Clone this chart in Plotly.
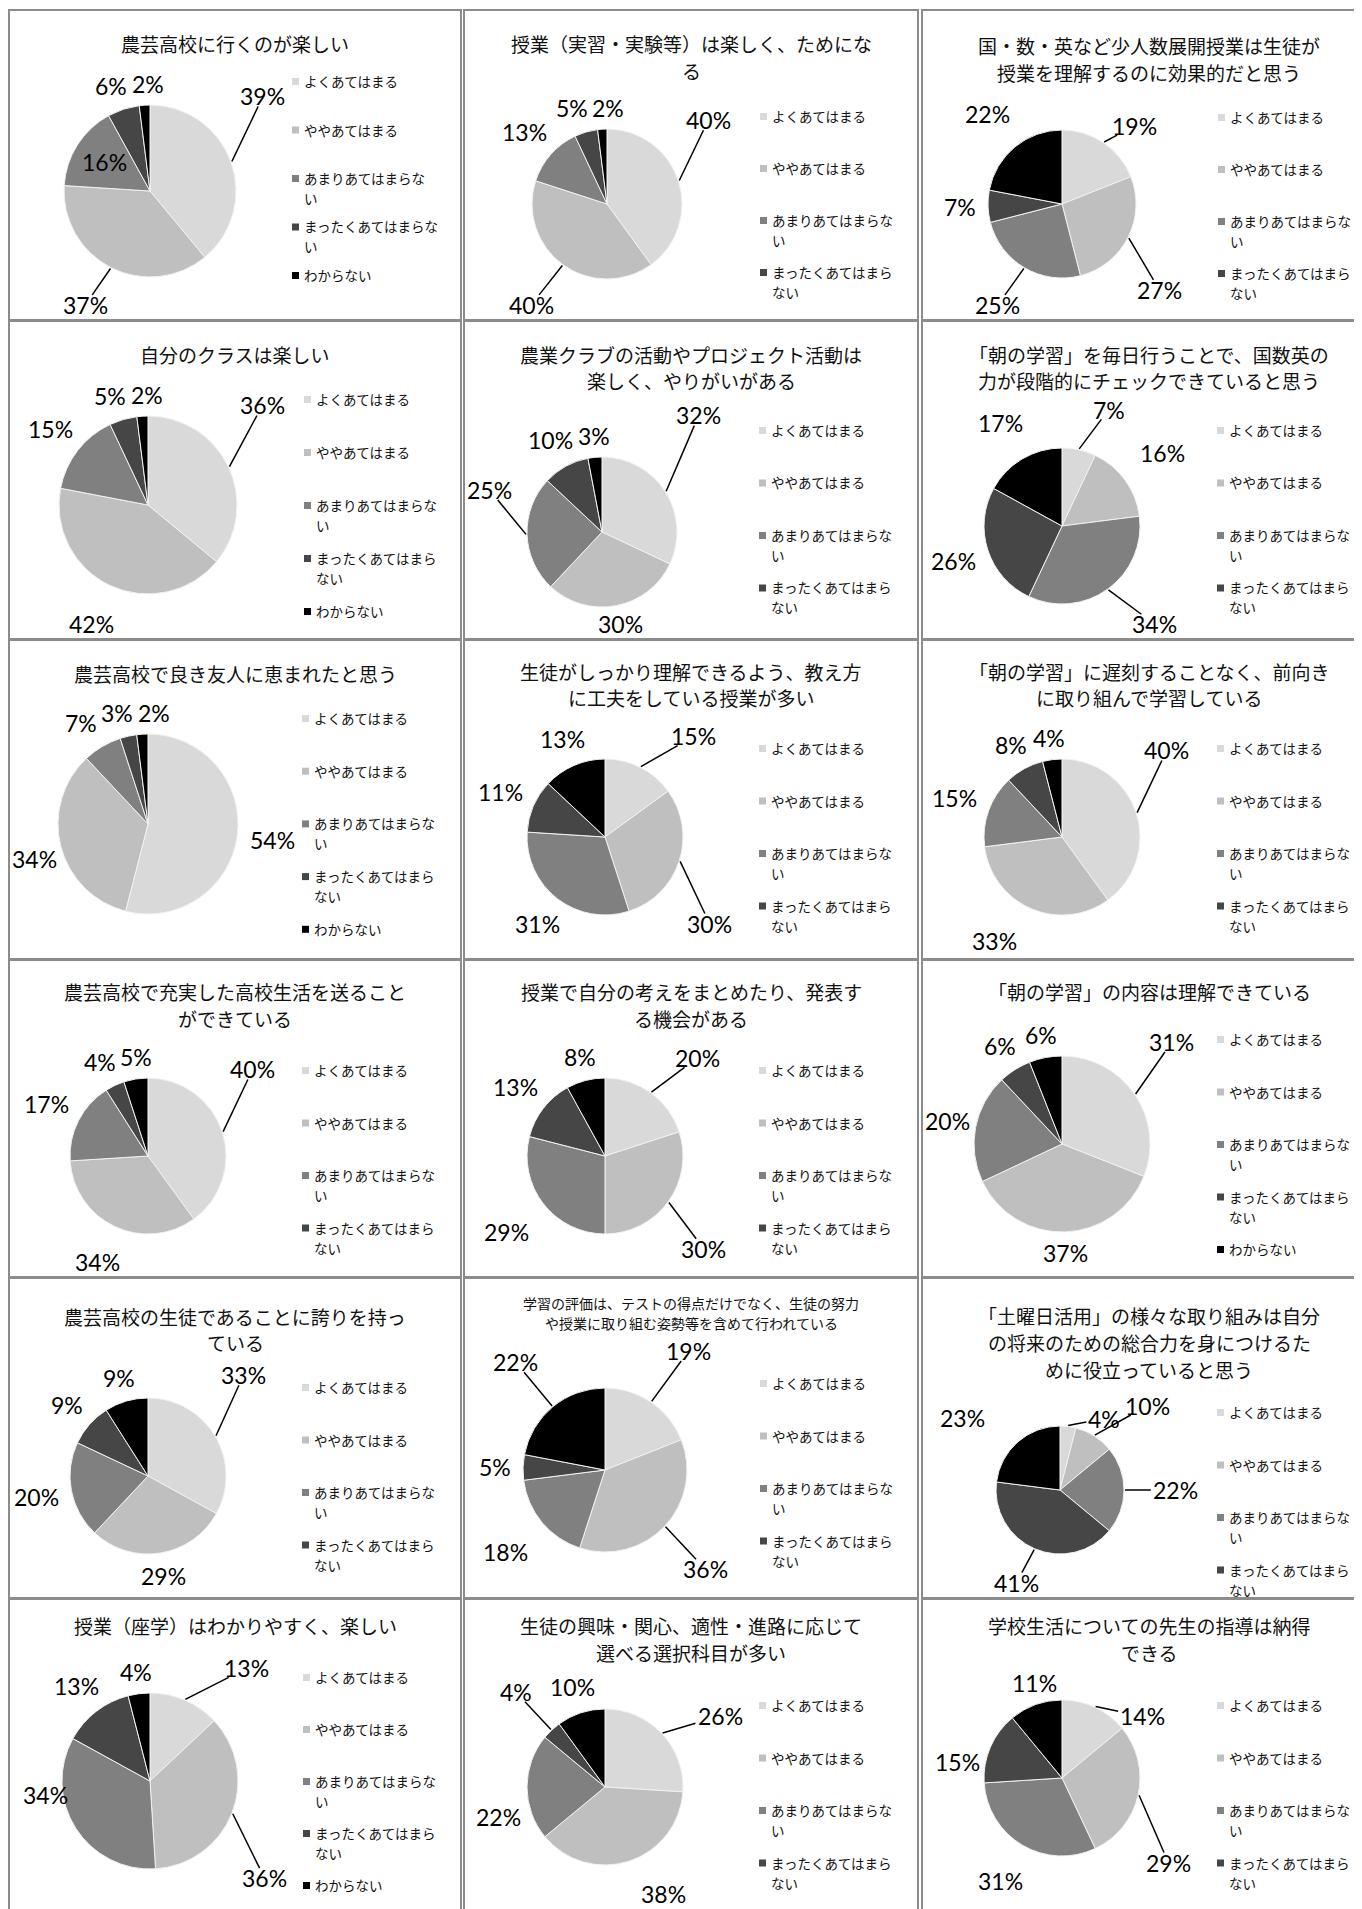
import math
import plotly.graph_objects as go

PAGE_W, PAGE_H = 1362, 1909
OFF = 8                      # default page margin of the html body
W, H = PAGE_W - OFF, PAGE_H - OFF

# ---------------- data ----------------
categories = ["よくあてはまる", "ややあてはまる", "あまりあてはまらない", "まったくあてはまらない", "わからない"]

titles = [
    ["農芸高校に行くのが楽しい"],
    ["授業（実習・実験等）は楽しく、ためにな", "る"],
    ["国・数・英など少人数展開授業は生徒が", "授業を理解するのに効果的だと思う"],
    ["自分のクラスは楽しい"],
    ["農業クラブの活動やプロジェクト活動は", "楽しく、やりがいがある"],
    ["「朝の学習」を毎日行うことで、国数英の", "力が段階的にチェックできていると思う"],
    ["農芸高校で良き友人に恵まれたと思う"],
    ["生徒がしっかり理解できるよう、教え方", "に工夫をしている授業が多い"],
    ["「朝の学習」に遅刻することなく、前向き", "に取り組んで学習している"],
    ["農芸高校で充実した高校生活を送ること", "ができている"],
    ["授業で自分の考えをまとめたり、発表す", "る機会がある"],
    ["「朝の学習」の内容は理解できている"],
    ["農芸高校の生徒であることに誇りを持っ", "ている"],
    ["学習の評価は、テストの得点だけでなく、生徒の努力", "や授業に取り組む姿勢等を含めて行われている"],
    ["「土曜日活用」の様々な取り組みは自分", "の将来のための総合力を身につけるた", "めに役立っていると思う"],
    ["授業（座学）はわかりやすく、楽しい"],
    ["生徒の興味・関心、適性・進路に応じて", "選べる選択科目が多い"],
    ["学校生活についての先生の指導は納得", "できる"],
]

v01 = [39, 37, 16, 6, 2]
v02 = [40, 40, 13, 5, 2]
v03 = [19, 27, 25, 7, 22]
v04 = [36, 42, 15, 5, 2]
v05 = [32, 30, 25, 10, 3]
v06 = [7, 16, 34, 26, 17]
v07 = [54, 34, 7, 3, 2]
v08 = [15, 30, 31, 11, 13]
v09 = [40, 33, 15, 8, 4]
v10 = [40, 34, 17, 4, 5]
v11 = [20, 30, 29, 13, 8]
v12 = [31, 37, 20, 6, 6]
v13 = [33, 29, 20, 9, 9]
v14 = [19, 36, 18, 5, 22]
v15 = [4, 10, 22, 41, 23]
v16 = [13, 36, 34, 13, 4]
v17 = [26, 38, 22, 4, 10]
v18 = [14, 29, 31, 15, 11]
values = [v01, v02, v03, v04, v05, v06, v07, v08, v09,
          v10, v11, v12, v13, v14, v15, v16, v17, v18]

legend_wrap_a = [["よくあてはまる"], ["ややあてはまる"], ["あまりあてはまらな", "い"],
                 ["まったくあてはまらな", "い"], ["わからない"]]
legend_wrap_b = [["よくあてはまる"], ["ややあてはまる"], ["あまりあてはまらな", "い"],
                 ["まったくあてはまら", "ない"], ["わからない"]]

# ---------------- style / layout (page pixels) ----------------
colors = ["#d9d9d9", "#bfbfbf", "#808080", "#464646", "#000000"]
border_color = "#8c8c8c"
col_x = [(9, 461), (464, 918), (922, 1378)]
row_y = [(10, 320), (321, 639), (640, 959), (960, 1277), (1278, 1598), (1599, 1930)]

pie_geo = [(150, 191, 86), (607, 204, 75), (1062, 204, 74),
           (148, 505, 89), (602, 532, 75), (1062, 526, 78),
           (148, 824, 90), (605, 837, 78), (1062, 837, 78),
           (148, 1156, 78), (605, 1156, 78), (1062, 1144, 88),
           (148, 1476, 78), (605, 1470, 82), (1060, 1490, 64),
           (150, 1781, 88), (605, 1787, 78), (1062, 1778, 78)]

title_geo = [(43, 27, 19), (43, 27, 19), (45, 27, 19),
             (354, 27, 19), (354, 27, 19), (354, 27, 19),
             (673, 27, 19), (671, 26, 19), (671, 26, 19),
             (992, 27, 19), (992, 27, 19), (992, 27, 19),
             (1316, 26, 19), (1303, 20, 14), (1315, 27, 19),
             (1625, 27, 19), (1625, 27, 19), (1625, 27, 19)]

legend_geo = [(292, 81, 48.5, 5, "a"), (760, 116, 52, 4, "b"), (1218, 117, 52, 4, "b"),
              (304, 399, 53, 5, "b"), (759, 430, 52.5, 4, "b"), (1217, 430, 52.5, 4, "b"),
              (302, 718, 52.7, 5, "b"), (759, 748, 52.5, 4, "b"), (1217, 748, 52.5, 4, "b"),
              (302, 1070, 52.5, 4, "b"), (759, 1070, 52.5, 4, "b"), (1217, 1039, 52.5, 5, "b"),
              (302, 1387, 52.5, 4, "b"), (760, 1383, 52.5, 4, "b"), (1217, 1412, 52.5, 4, "b"),
              (303, 1677, 52, 5, "b"), (759, 1705, 52.5, 4, "b"), (1217, 1705, 52.5, 4, "b")]

# n = near, l = far with leader line, m = medium with leader line, f = far, i = inside
label_style = ["llinn", "llnnn", "mllnf", "lfnnn", "lnlnn", "lflnf",
               "nfnnn", "llnnn", "lfnnn", "lfnnn", "llfnn", "lnnnn",
               "lnnnn", "llfnl", "mlllf", "llnnn", "lfnln", "mlfnn"]

# hand nudges of individual labels (panel, slice) -> (dx, dy) px
label_nudge = {(4, 0): (0, -28), (4, 2): (8, -46), (5, 0): (-34, -15), (15, 2): (0, -52),
               (16, 0): (19, 24), (16, 1): (23, 0), (16, 2): (6, 30),
               (17, 0): (8, 22), (17, 3): (0, 29), (17, 4): (8, 4),
               (14, 4): (-28, 6), (13, 0): (-12, -16), (12, 0): (-5, -10), (8, 1): (-21, -4)}

label_fs = 23
legend_fs = 13.5


def px(x):
    return (x - OFF) / W


def py(y):
    return 1 - (y - OFF) / H


fig = go.Figure()
shapes = []
annotations = []

for i in range(18):
    r_i, c_i = divmod(i, 3)
    x0, x1 = col_x[c_i]
    y0, y1 = row_y[r_i]
    shapes.append(dict(type="rect", xref="paper", yref="paper",
                       x0=px(x0), x1=px(x1), y0=py(y1), y1=py(y0),
                       line=dict(color=border_color, width=2), fillcolor="rgba(0,0,0,0)"))

    # title
    ty, tstep, tfs = title_geo[i]
    xc = (x0 + x1 if c_i < 2 else x0 + 1376) / 2
    for k, line in enumerate(titles[i]):
        annotations.append(dict(xref="paper", yref="paper", x=px(xc), y=py(ty + k * tstep),
                                text=line, showarrow=False, xanchor="center", yanchor="middle",
                                font=dict(family="Noto Sans CJK JP", size=tfs, color="#111")))
    title_bottom = ty + (len(titles[i]) - 1) * tstep + tfs * 0.55

    # pie
    cx, cy, r = pie_geo[i]
    vals = values[i]
    fig.add_trace(go.Pie(
        values=vals, labels=categories, sort=False, direction="clockwise", rotation=0,
        marker=dict(colors=colors, line=dict(color="#f2f2f2", width=1)),
        textinfo="none", showlegend=False, hoverinfo="label+value",
        domain=dict(x=[px(cx - r), px(cx + r)], y=[py(cy + r), py(cy - r)]),
    ))

    # percentage labels
    total = sum(vals)
    cum = 0
    labs = []
    for j, v in enumerate(vals):
        mid_deg = (cum + v / 2) / total * 360
        cum += v
        st = label_style[i][j]
        la = mid_deg
        if st in "lm":
            if mid_deg < 80:
                la = mid_deg + 0.8 * (45 - mid_deg)
            elif 100 < mid_deg < 180:
                la = mid_deg + 0.8 * (135 - mid_deg)
        th = math.radians(la)
        dx, dy = math.sin(th), -math.cos(th)
        hw = (len(str(v)) * 0.56 + 0.85) * label_fs / 2
        hh = 0.36 * label_fs
        adj = abs(dx) * hw + abs(dy) * hh
        if st == "i":
            d = 0.62 * r
        elif st == "n":
            d = r + 12 + adj
        elif st == "f":
            d = 1.3 * r + adj
        elif st == "m":
            d = 1.15 * r + adj
        else:
            d = 1.45 * r + adj
        labs.append(dict(j=j, v=v, st=st, mid=math.radians(mid_deg),
                         x=cx + dx * d, y=cy + dy * d, hw=hw, hh=hh))

    # simple collision avoidance between labels of one panel
    for _ in range(30):
        moved = False
        for a in range(len(labs)):
            for b in range(a + 1, len(labs)):
                A, B = labs[a], labs[b]
                if A["st"] == "i" or B["st"] == "i":
                    continue
                ox = A["hw"] + B["hw"] + 4 - abs(A["x"] - B["x"])
                oy = A["hh"] + B["hh"] + 2 - abs(A["y"] - B["y"])
                if ox > 0 and oy > 0:
                    s = 1 if A["x"] >= B["x"] else -1
                    A["x"] += s * ox / 2
                    B["x"] -= s * ox / 2
                    moved = True
        if not moved:
            break

    for L in labs:
        nd = label_nudge.get((i, L["j"]), (0, 0))
        L["x"] += nd[0]
        L["y"] += nd[1]
        box_h = 0.62 * label_fs
        # keep inside the panel and below the title
        L["x"] = min(max(L["x"], x0 + L["hw"] + 3), min(x1, PAGE_W) - L["hw"] - 3)
        L["y"] = min(max(L["y"], title_bottom + box_h + 2), min(y1, PAGE_H) - box_h - 1)
        annotations.append(dict(xref="paper", yref="paper", x=px(L["x"]), y=py(L["y"]),
                                text=f"{L['v']}%", showarrow=False, xanchor="center",
                                yanchor="middle",
                                font=dict(family="Lato", size=label_fs, color="#000")))
        if L["st"] in "lm":
            sx_ = cx + math.sin(L["mid"]) * (r + 1)
            sy_ = cy - math.cos(L["mid"]) * (r + 1)
            ux, uy = L["x"] - sx_, L["y"] - sy_
            n = math.hypot(ux, uy)
            ux, uy = ux / n, uy / n
            t = min(L["hw"] / max(abs(ux), 1e-6), L["hh"] / max(abs(uy), 1e-6))
            ex, ey = L["x"] - ux * (t + 2), L["y"] - uy * (t + 2)
            shapes.append(dict(type="line", xref="paper", yref="paper",
                               x0=px(sx_), y0=py(sy_), x1=px(ex), y1=py(ey),
                               line=dict(color="#000", width=1.5)))

    # legend
    sx, ly0, lstep, n_items, wrap = legend_geo[i]
    wrapped = legend_wrap_a if wrap == "a" else legend_wrap_b
    for j in range(n_items):
        yy = ly0 + j * lstep
        shapes.append(dict(type="rect", xref="paper", yref="paper",
                           x0=px(sx), x1=px(sx + 7), y0=py(yy + 4), y1=py(yy - 3),
                           line=dict(width=0), fillcolor=colors[j]))
        for k, line in enumerate(wrapped[j]):
            annotations.append(dict(xref="paper", yref="paper", x=px(sx + 10), y=py(yy + k * 20),
                                    text=line, showarrow=False, xanchor="left", yanchor="middle",
                                    font=dict(family="Noto Sans CJK JP", size=legend_fs,
                                              color="#111")))

fig.update_layout(width=W, height=H, margin=dict(l=0, r=0, t=0, b=0),
                  paper_bgcolor="white", plot_bgcolor="white",
                  shapes=shapes, annotations=annotations, showlegend=False)

fig.write_html("out.html")
